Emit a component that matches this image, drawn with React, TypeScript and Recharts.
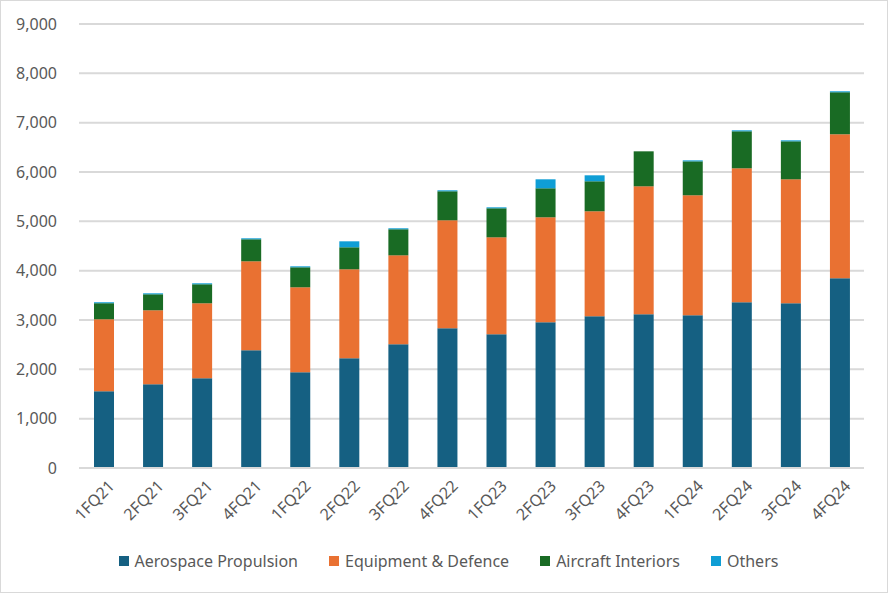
import React from "react";
import { BarChart, Bar, XAxis, YAxis, CartesianGrid, Legend } from "recharts";

const quarters = ["1FQ21","2FQ21","3FQ21","4FQ21","1FQ22","2FQ22","3FQ22","4FQ22","1FQ23","2FQ23","3FQ23","4FQ23","1FQ24","2FQ24","3FQ24","4FQ24"];
const aerospacePropulsion = [1555,1697,1818,2386,1940,2224,2508,2832,2711,2954,3075,3115,3095,3359,3338,3845];
const equipmentDefence = [1460,1500,1521,1804,1723,1804,1803,2189,1965,2128,2129,2595,2433,2716,2514,2919];
const aircraftInteriors = [325,324,385,446,405,446,528,588,588,588,608,709,688,750,770,852];
const others = [20,20,20,20,20,121,20,20,20,182,121,0,20,20,20,20];
const yTicks = [0,1000,2000,3000,4000,5000,6000,7000,8000,9000];

const series = [
  { key: "aero", name: "Aerospace Propulsion", color: "#156082", values: aerospacePropulsion },
  { key: "equip", name: "Equipment & Defence", color: "#E97132", values: equipmentDefence },
  { key: "interiors", name: "Aircraft Interiors", color: "#196B24", values: aircraftInteriors },
  { key: "others", name: "Others", color: "#0F9ED5", values: others },
];

const data = quarters.map((q, i) => {
  const row: any = { q };
  series.forEach((s) => { row[s.key] = s.values[i]; });
  return row;
});

const FONT = "'Noto Sans', sans-serif";
const TXT = "#595959";

const XTick = (props: any) => {
  const { x, y, payload } = props;
  return (
    <g transform={`translate(${x + 5},${y + 4})`}>
      <text x={0} y={0} dy={10} textAnchor="end" transform="rotate(-45)" fill={TXT} fontSize={16} fontFamily={FONT}>
        {payload.value}
      </text>
    </g>
  );
};

const LegendContent = () => (
  <div style={{ display: "flex", justifyContent: "center", alignItems: "center", height: 30, paddingLeft: 32, fontFamily: FONT, fontSize: 16, color: TXT }}>
    {series.map((s, i) => (
      <div key={s.key} style={{ display: "flex", alignItems: "center", marginRight: i < series.length - 1 ? 31 : 0 }}>
        <div style={{ width: 10, height: 10, background: s.color, marginRight: 6 }} />
        <span>{s.name}</span>
      </div>
    ))}
  </div>
);

export default function App() {
  return (
    <div style={{ position: "absolute", left: 0, top: 0, width: 888, height: 593, boxSizing: "border-box", border: "1px solid #d9d9d9", background: "#fff" }}>
      <BarChart width={886} height={591} data={data} margin={{ top: 23, right: 23, left: 0, bottom: 16 }} barSize={20}>
        <CartesianGrid vertical={false} stroke="#d9d9d9" strokeWidth={2} />
        <XAxis dataKey="q" tick={<XTick />} tickLine={false} axisLine={{ stroke: "#d9d9d9", strokeWidth: 2 }} height={78} interval={0} />
        <YAxis width={78} domain={[0, 9000]} ticks={yTicks} tickLine={false} axisLine={false} tickMargin={16}
          tickFormatter={(v: number) => v.toLocaleString("en-US")}
          tick={{ fill: TXT, fontSize: 16, fontFamily: FONT }} />
        <Legend verticalAlign="bottom" content={<LegendContent />} />
        {series.map((s) => (
          <Bar key={s.key} dataKey={s.key} name={s.name} stackId="a" fill={s.color} isAnimationActive={false} />
        ))}
      </BarChart>
    </div>
  );
}
